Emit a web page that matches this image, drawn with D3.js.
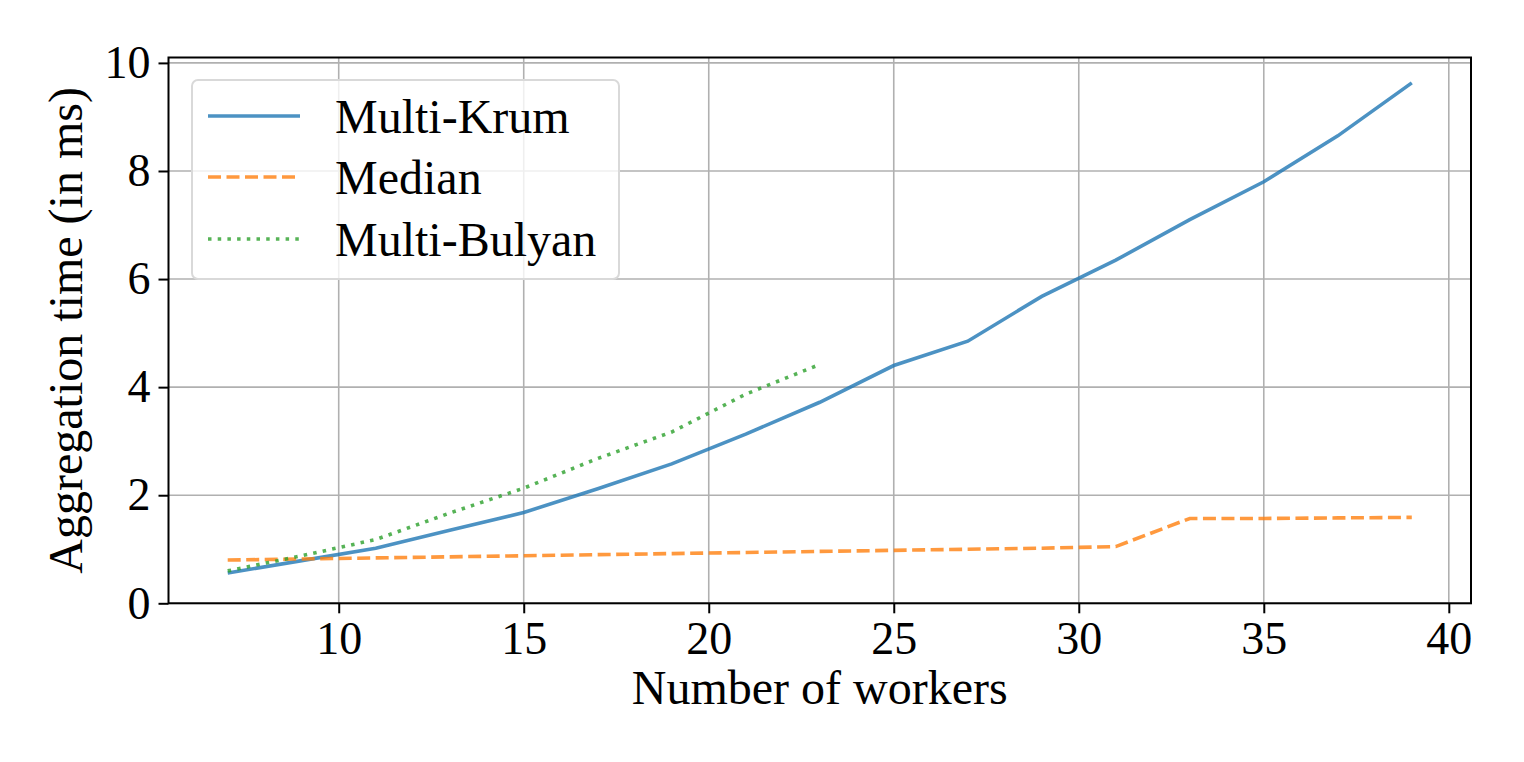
<!DOCTYPE html>
<html>
<head>
<meta charset="utf-8">
<script src="https://cdn.jsdelivr.net/npm/d3@7"></script>
<style>
  body { margin: 0; background: #fff; }
  svg { display: block; font-family: "Liberation Serif", "DejaVu Serif", serif; }
</style>
</head>
<body>
<div class="graph"></div>
<script>
// Data
var workers = [7, 9, 11, 13, 15, 17, 19, 21, 23, 25, 27, 29, 31, 33, 35, 37, 39];
var krum = [0.56, 0.79, 1.02, 1.35, 1.68, 2.12, 2.58, 3.13, 3.72, 4.40, 4.85, 5.68, 6.35, 7.10, 7.80, 8.65, 9.63];
var median = [0.80, 0.82, 0.84, 0.86, 0.88, 0.90, 0.92, 0.94, 0.96, 0.98, 1.00, 1.02, 1.05, 1.57, 1.57, 1.58, 1.59];
var bulyanWorkers = [7, 9, 11, 13, 15, 17, 19, 21, 23];
var bulyan = [0.60, 0.88, 1.18, 1.67, 2.13, 2.68, 3.17, 3.87, 4.42];
var xTicks = [10, 15, 20, 25, 30, 35, 40];
var yTicks = [0, 2, 4, 6, 8, 10];

var series = [
    {name: "Multi-Krum", x: workers, y: krum, color: "#1f77b4", dash: null},
    {name: "Median", x: workers, y: median, color: "#ff7f0e", dash: "13,5.5"},
    {name: "Multi-Bulyan", x: bulyanWorkers, y: bulyan, color: "#2ca02c", dash: "3.5,6.2"}
];

// Layout (window.top is reserved, so plot* names)
var width = 1524,
    height = 762,
    plotLeft = 168.5,
    plotRight = 1471,
    plotTop = 57.5,
    plotBottom = 603.3;

var x = d3.scaleLinear().domain([5.4, 40.6]).range([plotLeft, plotRight]);
var y = d3.scaleLinear().domain([0, 10.1]).range([plotBottom, plotTop]);

var svg = d3.select(".graph").append("svg")
    .attr("width", width)
    .attr("height", height);

// Grid
svg.append("g")
    .selectAll("line")
    .data(xTicks)
    .enter().append("line")
    .attr("x1", function(d) { return x(d); })
    .attr("x2", function(d) { return x(d); })
    .attr("y1", plotTop)
    .attr("y2", plotBottom)
    .style("stroke", "#b0b0b0")
    .style("stroke-width", 1.6);

svg.append("g")
    .selectAll("line")
    .data(yTicks)
    .enter().append("line")
    .attr("x1", plotLeft)
    .attr("x2", plotRight)
    .attr("y1", function(d) { return y(d); })
    .attr("y2", function(d) { return y(d); })
    .style("stroke", "#b0b0b0")
    .style("stroke-width", 1.6);

// Lines
var line = d3.line()
    .x(function(d) { return x(d[0]); })
    .y(function(d) { return y(d[1]); });

series.forEach(function(s) {
    svg.append("path")
        .datum(d3.zip(s.x, s.y))
        .attr("d", line)
        .style("fill", "none")
        .style("stroke", s.color)
        .style("stroke-opacity", 0.8)
        .style("stroke-width", 3.6)
        .style("stroke-dasharray", s.dash);
});

// Axes
var xAxis = svg.append("g")
    .attr("transform", "translate(0," + plotBottom + ")")
    .call(d3.axisBottom(x).tickValues(xTicks).tickSize(10).tickPadding(8).tickFormat(d3.format("d")));

var yAxis = svg.append("g")
    .attr("transform", "translate(" + plotLeft + ",0)")
    .call(d3.axisLeft(y).tickValues(yTicks).tickSize(10).tickPadding(8).tickFormat(d3.format("d")));

[xAxis, yAxis].forEach(function(a) {
    a.select(".domain").remove();
    a.selectAll(".tick line").style("stroke", "#000").style("stroke-width", 2);
    a.selectAll("text")
        .style("font-family", "Liberation Serif, serif")
        .style("font-size", "46px")
        .style("fill", "#000");
});
xAxis.selectAll("text").attr("dy", "0.72em");

// Frame
svg.append("rect")
    .attr("x", plotLeft)
    .attr("y", plotTop)
    .attr("width", plotRight - plotLeft)
    .attr("height", plotBottom - plotTop)
    .style("fill", "none")
    .style("stroke", "#000")
    .style("stroke-width", 2);

// Axis titles
svg.append("text")
    .attr("x", (plotLeft + plotRight) / 2)
    .attr("y", 704)
    .attr("text-anchor", "middle")
    .style("font-size", "48px")
    .text("Number of workers");

svg.append("text")
    .attr("transform", "translate(82," + (plotTop + plotBottom) / 2 + ") rotate(-90)")
    .attr("text-anchor", "middle")
    .style("font-size", "48px")
    .text("Aggregation time (in ms)");

// Legend
var legend = svg.append("g");
legend.append("rect")
    .attr("x", 192)
    .attr("y", 80)
    .attr("width", 427)
    .attr("height", 199)
    .attr("rx", 6)
    .style("fill", "#fff")
    .style("fill-opacity", 0.8)
    .style("stroke", "#d9d9d9")
    .style("stroke-width", 2);

var rowY = [116, 177, 239];
series.forEach(function(s, i) {
    legend.append("line")
        .attr("x1", 208)
        .attr("x2", 300)
        .attr("y1", rowY[i])
        .attr("y2", rowY[i])
        .style("stroke", s.color)
        .style("stroke-opacity", 0.8)
        .style("stroke-width", 3.6)
        .style("stroke-dasharray", s.dash);
    legend.append("text")
        .attr("x", 335)
        .attr("y", rowY[i])
        .attr("dy", "0.35em")
        .style("font-size", "48px")
        .text(s.name);
});
</script>
</body>
</html>
